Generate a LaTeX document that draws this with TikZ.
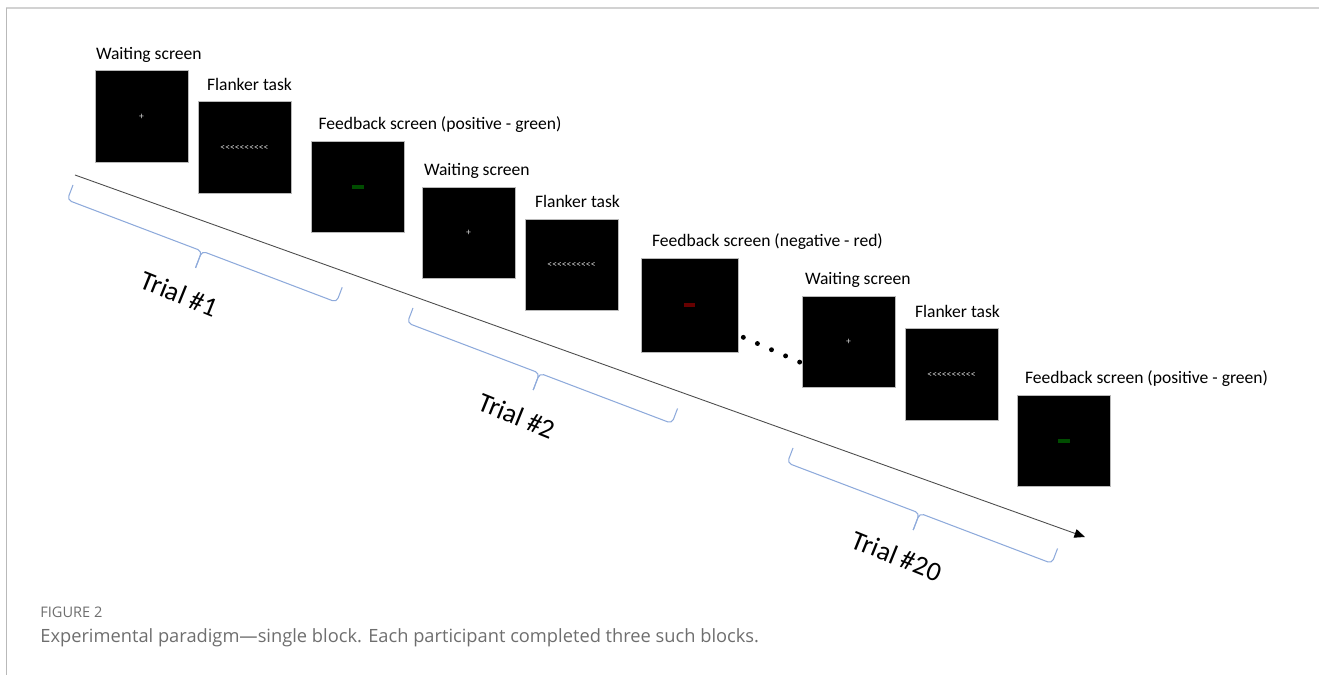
\documentclass[tikz,border=0pt]{standalone}
\usepackage{fontspec}
\setmainfont{Carlito}
\newfontfamily\capfont{Open Sans}
\usetikzlibrary{arrows.meta, positioning, calc}
\definecolor{bracecol}{HTML}{8EAADB}
\definecolor{capgray}{HTML}{6E6E6E}
% row of flanker arrows (no << ligature)
\newcommand{\flankrow}{<{}<{}<{}<{}<{}<{}<{}<{}<{}<}

\begin{document}
\begin{tikzpicture}[x=0.02cm, y=-0.02cm,
  screen/.style={draw=gray!55, fill=black, line width=0.4pt, minimum width=1.86cm, minimum height=1.83cm, inner sep=0pt},
  lbl/.style={anchor=base west, font=\fontsize{10}{12}\selectfont, inner sep=0pt},
  brc/.style={draw=bracecol, line width=0.6pt, rounded corners=2.5pt},
  trial/.style={font=\fontsize{15.5}{18}\selectfont, rotate=-22},
  fix/.style={text=white!85!black, font=\fontsize{5.5}{5.5}\selectfont, inner sep=0pt},
  good/.style={fill=green!30!black, minimum width=0.24cm, minimum height=0.09cm, inner sep=0pt},
  bad/.style={fill=red!40!black, minimum width=0.22cm, minimum height=0.08cm, inner sep=0pt}]
  \useasboundingbox (0,0) rectangle (1319,675);
  % page frame
  \draw[gray!35, line width=1.2pt] (6,8) -- (1319,8);
  \draw[gray!55, line width=0.4pt] (6,8) -- (6,675);
  % time axis
  \coordinate (t0) at (75,175);
  \coordinate (t1) at (1085,537);
  \draw[gray!60!black, line width=0.5pt, -{Triangle[length=6pt, width=5pt, color=black]}] (t0) -- (t1);
  % trial 1
  \node[screen] (w1) at (141.5,116.5) {};
  \node[fix] at (w1) {+};
  \node[lbl] (lw1) at ($(w1.north west)+(1,-11)$) {Waiting screen};
  \node[screen] (f1) at (244.5,147.5) {};
  \node[fix] at (f1) {\flankrow};
  \node[lbl] (lf1) at ($(f1.north west)+(9,-11)$) {Flanker task};
  \node[screen] (fb1) at (358,187) {};
  \node[good] at (fb1) {};
  \node[lbl] (lfb1) at ($(fb1.north west)+(7,-11)$) {Feedback screen (positive - green)};
  % trial 2
  \node[screen] (w2) at (468.5,233) {};
  \node[fix] at (w2) {+};
  \node[lbl] (lw2) at ($(w2.north west)+(2,-11)$) {Waiting screen};
  \node[screen] (f2) at (571.5,265) {};
  \node[fix] at (f2) {\flankrow};
  \node[lbl] (lf2) at ($(f2.north west)+(10,-11)$) {Flanker task};
  \node[screen, minimum width=1.94cm, minimum height=1.88cm] (fb2) at (689.5,305) {};
  \node[bad] at (fb2) {};
  \node[lbl] (lfb2) at ($(fb2.north west)+(11,-11)$) {Feedback screen (negative - red)};
  % trial 20
  \node[screen] (w3) at (848.5,342) {};
  \node[fix] at (w3) {+};
  \node[lbl] (lw3) at ($(w3.north west)+(3,-11)$) {Waiting screen};
  \node[screen] (f3) at (951.5,374.5) {};
  \node[fix] at (f3) {\flankrow};
  \node[lbl] (lf3) at ($(f3.north west)+(10,-11)$) {Flanker task};
  \node[screen] (fb3) at (1063.5,441) {};
  \node[good] at (fb3) {};
  \node[lbl] (lfb3) at ($(fb3.north west)+(8,-11)$) {Feedback screen (positive - green)};
  % dots between trials
  \coordinate (d1) at ($(fb2.south east)+(5,-15)$);
  \coordinate (d2) at ($(w3.south west)+(-2,-26)$);
  \foreach \k in {0,...,4}
    \fill ($(d1)!\k/4!(d2)$) circle (1.4pt);
  % braces
  \foreach \bx/\by/\bl/\bn in {73/185/288/1, 413/308/283/2, 793/448/283/20} {
    \begin{scope}[shift={(\bx,\by)}, rotate=-20.8]
      \draw[brc] (0,0) -- (0,16) -- (\bl/2,16) -- (\bl/2,34);
      \draw[brc] (\bl/2,34) -- (\bl/2,16) -- (\bl,16) -- (\bl,0);
      \node[trial] (trial\bn) at (\bl/2-6,64) {Trial \#\bn};
    \end{scope}
  }
  % caption
  \node[anchor=west, inner sep=0pt, text=capgray, font=\capfont\fontsize{8.3}{10}\selectfont] (fig) at (40,612) {FIGURE 2};
  \node[anchor=west, inner sep=0pt, text=capgray, font=\capfont\fontsize{10.4}{12}\selectfont] (cap) at (40,638) {Experimental paradigm—single block. Each participant completed three such blocks.};
\end{tikzpicture}
\end{document}
